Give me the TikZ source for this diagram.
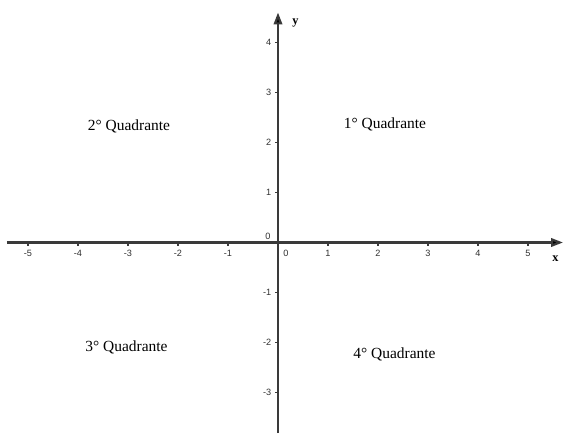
\documentclass[tikz,border=0pt]{standalone}
\usepackage{fontspec}
\setmainfont{Liberation Serif}
\setsansfont{Liberation Sans}
\usetikzlibrary{arrows.meta,positioning}
\definecolor{axisgray}{HTML}{3A3A3A}
\definecolor{ticktext}{HTML}{303030}
\tikzset{
  axisline/.style={draw=axisgray, line width=1.25pt, -{Triangle[length=2.4mm, width=1.7mm, fill=black]}},
  tickmark/.style={draw=axisgray, line width=0.9pt},
  ticklabel/.style={inner sep=0pt, text=ticktext, font=\sffamily\fontsize{5.2}{6}\selectfont},
  axislabel/.style={inner sep=0pt, font=\bfseries\fontsize{7}{8}\selectfont},
  quadlabel/.style={inner sep=0pt, font=\fontsize{8.8}{10}\selectfont}
}
\begin{document}
\begin{tikzpicture}
\useasboundingbox (-5.56,-3.81) rectangle (5.70,4.85);
\coordinate (xmin) at (-5.42,0);
\coordinate (xmax) at (5.70,0);
\coordinate (ymin) at (0,-3.81);
\coordinate (ymax) at (0,4.60);
% axes
\draw[axisline] (xmin) -- (xmax);
\draw[axisline] (ymin) -- (ymax);
% ticks on x
\foreach \i in {-5,-4,-3,-2,-1,1,2,3,4,5} {
  \draw[tickmark] (\i,0) -- (\i,-0.07);
  \node[ticklabel] (tx\i) at (\i,-0.21) {\i};
}
% ticks on y
\foreach \j in {-3,-2,-1,1,2,3,4} {
  \draw[tickmark] (0,\j) -- (-0.07,\j);
  \node[ticklabel, anchor=east] (ty\j) at (-0.13,\j) {\j};
}
\node[ticklabel] (zeroa) at (-0.2,0.13) {0};
\node[ticklabel] (zerob) at (0.16,-0.21) {0};
\node[axislabel] (xlab) at (5.55,-0.32) {x};
\node[axislabel] (ylab) at (0.35,4.38) {y};
% quadrants
\node[quadlabel] (q1) at (2.14,2.37) {1° Quadrante};
\node[quadlabel] (q2) at (-2.98,2.33) {2° Quadrante};
\node[quadlabel] (q3) at (-3.03,-2.09) {3° Quadrante};
\node[quadlabel] (q4) at (2.33,-2.23) {4° Quadrante};
\end{tikzpicture}
\end{document}
